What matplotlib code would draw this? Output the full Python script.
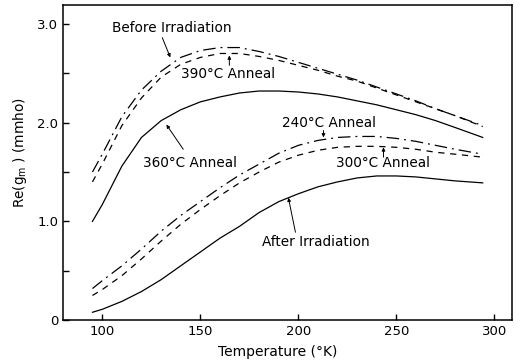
import matplotlib
matplotlib.use("Agg")
import matplotlib.pyplot as plt

# temperature (K) and Re(gm) (mmho)
temperature = [95, 100, 110, 120, 130, 140, 150, 160, 170, 180, 190,
               200, 210, 220, 230, 240, 250, 260, 270, 280, 294]

before_irr = [1.50, 1.68, 2.06, 2.33, 2.52, 2.66, 2.73, 2.76, 2.76, 2.72, 2.67,
              2.61, 2.55, 2.49, 2.43, 2.36, 2.29, 2.22, 2.14, 2.07, 1.97]
anneal_390 = [1.40, 1.58, 1.97, 2.25, 2.46, 2.59, 2.66, 2.70, 2.70, 2.67, 2.63,
              2.58, 2.53, 2.47, 2.42, 2.35, 2.28, 2.21, 2.14, 2.07, 1.96]
anneal_360 = [1.00, 1.17, 1.56, 1.85, 2.02, 2.13, 2.21, 2.26, 2.30, 2.32, 2.32,
              2.31, 2.29, 2.26, 2.22, 2.18, 2.13, 2.08, 2.02, 1.95, 1.85]
anneal_240 = [0.32, 0.40, 0.55, 0.72, 0.90, 1.06, 1.20, 1.34, 1.47, 1.58, 1.69,
              1.77, 1.82, 1.85, 1.86, 1.86, 1.84, 1.81, 1.77, 1.73, 1.68]
anneal_300 = [0.25, 0.31, 0.45, 0.62, 0.80, 0.97, 1.12, 1.26, 1.39, 1.50, 1.60,
              1.67, 1.72, 1.75, 1.76, 1.76, 1.75, 1.73, 1.70, 1.68, 1.65]
after_irr = [0.08, 0.11, 0.19, 0.29, 0.41, 0.55, 0.69, 0.83, 0.95, 1.09, 1.20,
             1.28, 1.35, 1.40, 1.44, 1.46, 1.46, 1.45, 1.43, 1.41, 1.39]

xticks = [100, 150, 200, 250, 300]
yticks = [0, 1.0, 2.0, 3.0]
ytick_labels = ["0", "1.0", "2.0", "3.0"]

# label text, text centre, arrow tail, arrow head (data coords)
notes = [
    ("Before Irradiation", (135.7, 2.96), (130.6, 2.86), (134.7, 2.66)),
    ("390°C Anneal", (164.3, 2.49), (164.8, 2.58), (164.8, 2.68)),
    ("360°C Anneal", (144.9, 1.59), (141.3, 1.73), (132.7, 1.98)),
    ("240°C Anneal", (215.8, 2.00), (212.8, 1.92), (212.8, 1.85)),
    ("300°C Anneal", (242.9, 1.59), (243.4, 1.65), (243.4, 1.75)),
    ("After Irradiation", (208.7, 0.79), (198.5, 0.89), (194.9, 1.24)),
]

plt.rcParams["font.family"] = "DejaVu Sans"
fig = plt.figure(figsize=(5.21, 3.63), dpi=100)
ax = fig.add_axes([0.121, 0.118, 0.862, 0.868])

lw = 0.9
dashdot = (10, 4, 1.5, 4)
dashed = (5, 4.5)

ax.plot(temperature, before_irr, color="black", lw=lw, dashes=dashdot)
ax.plot(temperature, anneal_390, color="black", lw=lw, dashes=dashed)
ax.plot(temperature, anneal_360, color="black", lw=lw)
ax.plot(temperature, anneal_240, color="black", lw=lw, dashes=dashdot)
ax.plot(temperature, anneal_300, color="black", lw=lw, dashes=dashed)
ax.plot(temperature, after_irr, color="black", lw=lw)

ax.set_xlim(80, 309)
ax.set_ylim(0, 3.19)
ax.set_xticks(xticks)
ax.set_yticks(yticks)
ax.set_yticklabels(ytick_labels)
ax.set_yticks([0.5, 1.5, 2.5], minor=True)
ax.tick_params(which="both", direction="in", length=4, width=1, labelsize=9.5)
for s in ax.spines.values():
    s.set_linewidth(1.1)

ax.set_xlabel("Temperature (°K)", fontsize=10)
ax.set_ylabel(r"Re(g$_\mathrm{m}$ ) (mmho)", fontsize=9.8)
ax.xaxis.set_label_coords(0.479, -0.078)
ax.yaxis.set_label_coords(-0.075, 0.533)

arrow = dict(arrowstyle="-|>", color="black", lw=0.7, mutation_scale=5,
             shrinkA=0, shrinkB=0)
for label, txt, tail, head in notes:
    ax.text(txt[0], txt[1], label, ha="center", va="center", fontsize=9.8)
    ax.annotate("", xy=head, xytext=tail, arrowprops=arrow)

fig.savefig("out.png", dpi=100)
